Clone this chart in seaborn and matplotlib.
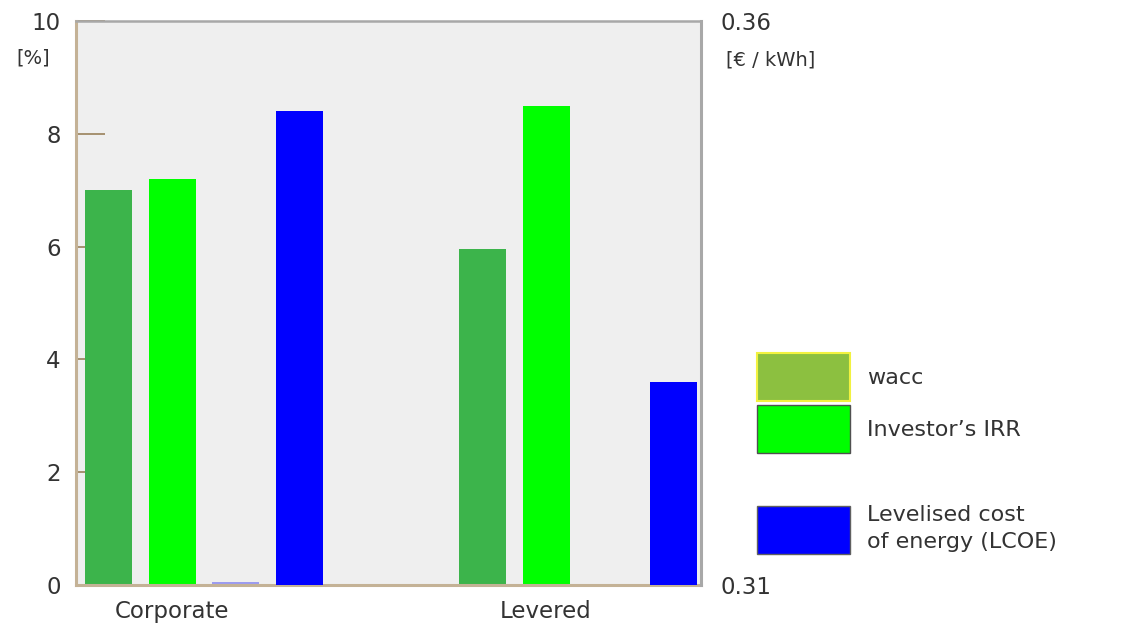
import numpy as np
import pandas as pd
import matplotlib
matplotlib.use("Agg")
import matplotlib.pyplot as plt
import seaborn as sns
from matplotlib.patches import Patch

# Financing structures compared
groups = ["Corporate", "Levered"]

# Left axis series, in percent
wacc = [7.0, 5.96]
investor_irr = [7.2, 8.5]
aux = [0.06, np.nan]

# Right axis series, in EUR per kWh
lcoe = [0.352, 0.328]

series_order = ["wacc", "Investor's IRR", "aux", "LCOE"]
palette = {
    "wacc": "#3cb44b",
    "Investor's IRR": "#00ff00",
    "aux": "#9c9cf0",
    "LCOE": "#0000ff",
}

left_ticks = [0, 2, 4, 6, 8, 10]
right_ticks = [0.31, 0.36]

plt.rcParams["font.family"] = ["DejaVu Sans"]
text_color = "#333333"
tan = "#c4b296"
grey = "#a8a8a8"

df_pct = pd.DataFrame({
    "group": groups * 3,
    "series": ["wacc"] * 2 + ["Investor's IRR"] * 2 + ["aux"] * 2,
    "value": wacc + investor_irr + aux,
})
df_cost = pd.DataFrame({
    "group": groups,
    "series": ["LCOE"] * 2,
    "value": lcoe,
})

fig = plt.figure(figsize=(11.29, 6.30), dpi=100)
ax = fig.add_axes([76 / 1129, 1 - 585 / 630, (701 - 76) / 1129, (585 - 21) / 630])
ax.set_facecolor("#efefef")
ax.set_axisbelow(True)

bar_kw = dict(x="group", y="value", hue="series", hue_order=series_order,
              palette=palette, width=0.681, gap=0.26, linewidth=0, dodge=True,
              saturation=1, errorbar=None, legend=False)

sns.barplot(data=df_pct, ax=ax, **bar_kw)

ax2 = ax.twinx()
sns.barplot(data=df_cost, ax=ax2, **bar_kw)

# Left axis: percent scale
ax.set_ylim(0, 10)
ax.set_yticks(left_ticks)
ax.set_yticklabels([str(t) for t in left_ticks])
ax.tick_params(axis="y", direction="in", length=21, width=1.3, color="#a08a66",
               pad=11, labelsize=16.5, labelcolor=text_color)

# Right axis: cost scale
ax2.set_ylim(0.31, 0.36)
ax2.set_yticks(right_ticks)
ax2.set_yticklabels([f"{t:.2f}" for t in right_ticks])
ax2.tick_params(axis="y", length=0, pad=14, labelsize=16.5, labelcolor=text_color)

# Category labels sit under the IRR bars
irr_bars = ax.containers[series_order.index("Investor's IRR")]
centers = [p.get_x() + p.get_width() / 2 for p in irr_bars]
ax.set_xticks(centers)
ax.set_xticklabels(groups)
ax.tick_params(axis="x", length=0, pad=11, labelsize=16.5, labelcolor=text_color)
ax2.tick_params(axis="x", bottom=False, labelbottom=False)
ax.set_xlim(-0.342, 1.329)

for a in (ax, ax2):
    a.set_xlabel("")
    a.set_ylabel("")

ax.spines["left"].set_color(tan)
ax.spines["bottom"].set_color(tan)
ax.spines["top"].set_color(grey)
ax.spines["right"].set_visible(False)
ax.spines["left"].set_linewidth(2.2)
ax.spines["bottom"].set_linewidth(2.2)
ax.spines["top"].set_linewidth(1.8)
ax2.spines["right"].set_color(grey)
ax2.spines["right"].set_linewidth(2.2)
for s in ("left", "bottom", "top"):
    ax2.spines[s].set_visible(False)

# Unit labels
fig.text(33 / 1129, 1 - 58 / 630, "[%]", ha="center", va="center",
         fontsize=14, color=text_color)
fig.text(726 / 1129, 1 - 60 / 630, "[€ / kWh]", ha="left", va="center",
         fontsize=14, color=text_color)

# Legend
leg_kw = dict(loc="upper left", frameon=False, borderpad=0, borderaxespad=0,
              handlelength=4.2, handleheight=2.95, labelspacing=0.18,
              handletextpad=0.75, fontsize=16, labelcolor=text_color)
fig.legend(handles=[
    Patch(facecolor="#8cc040", edgecolor="#f2f240", linewidth=1.5, label="wacc"),
    Patch(facecolor="#00ff00", edgecolor="#505050", linewidth=1, label="Investor\u2019s IRR"),
], bbox_to_anchor=(757 / 1129, 1 - 353 / 630), **leg_kw)
leg2 = fig.legend(handles=[
    Patch(facecolor="#0000ff", edgecolor="#606060", linewidth=1,
          label="Levelised cost\nof energy (LCOE)"),
], bbox_to_anchor=(757 / 1129, 1 - 505 / 630), **leg_kw)
for t in leg2.get_texts():
    t.set_linespacing(1.45)

fig.savefig("out.png", dpi=100)
